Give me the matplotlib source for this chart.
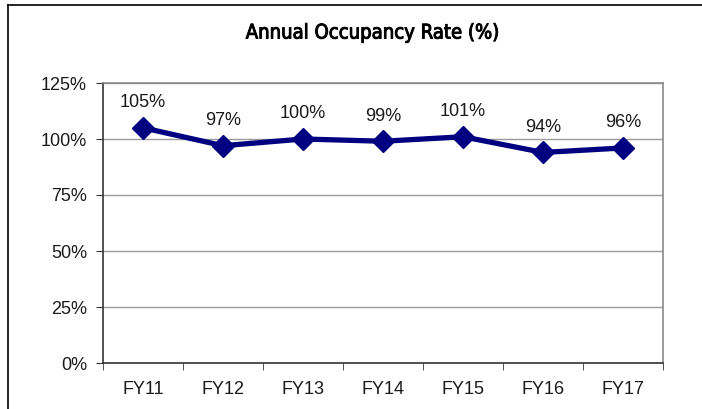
import matplotlib
matplotlib.use("Agg")
import matplotlib.pyplot as plt
from matplotlib.lines import Line2D
import matplotlib.patheffects as pe

categories = ["FY11", "FY12", "FY13", "FY14", "FY15", "FY16", "FY17"]
occupancy = [105, 97, 100, 99, 101, 94, 96]
yticks = [0, 25, 50, 75, 100, 125]

W, H = 702, 409
fig = plt.figure(figsize=(W / 100, H / 100), dpi=100)
fig.patch.set_facecolor("white")

# outer frame (left and top visible)
fig.add_artist(Line2D([8 / W, 8 / W], [0, 1 - 5 / H], color="black", lw=1.2, transform=fig.transFigure))
fig.add_artist(Line2D([8 / W, 1], [1 - 5 / H, 1 - 5 / H], color="black", lw=1.2, transform=fig.transFigure))

LBL = dict(fontsize=13, family=["Liberation Sans", "DejaVu Sans"], color="#1a1a1a")

ax = fig.add_axes([103 / W, 46 / H, 560 / W, 280 / H])
x = list(range(len(categories)))
ax.plot(x, occupancy, color="#000080", lw=3.8, marker="D", markersize=11, zorder=3, clip_on=False)
for xi, v in zip(x, occupancy):
    ax.annotate(f"{v}%", (xi, v), xytext=(0, 18), textcoords="offset points",
                ha="center", va="center", **LBL)

ax.set_xlim(-0.5, len(categories) - 0.5)
ax.set_ylim(0, 125)
ax.set_yticks(yticks)
ax.set_yticklabels([f"{t}%" for t in yticks], **LBL)
ax.yaxis.grid(True, color="#9a9a9a", lw=1)
ax.set_axisbelow(True)

ax.set_xticks(x)
ax.set_xticklabels(categories, **LBL)
ax.tick_params(axis="x", length=0, pad=13)
ax.set_xticks([i - 0.5 for i in range(len(categories) + 1)], minor=True)
ax.tick_params(axis="x", which="minor", length=5, direction="out", color="#333333")
ax.tick_params(axis="y", length=5, direction="out", color="#333333", pad=6.5)

for s in ["left", "bottom"]:
    ax.spines[s].set_color("#333333")
    ax.spines[s].set_linewidth(1.2)
for s in ["right", "top"]:
    ax.spines[s].set_color("#8a8a8a")
    ax.spines[s].set_linewidth(1.2)

fig.text(372 / W, 1 - 33 / H, "Annual Occupancy Rate (%)", ha="center", va="center",
         fontsize=14.5, fontweight="normal", fontstretch="condensed",
         family=["DejaVu Sans"], color="black",
         path_effects=[pe.withStroke(linewidth=0.7, foreground="black")])

fig.savefig("out.png", dpi=100)
